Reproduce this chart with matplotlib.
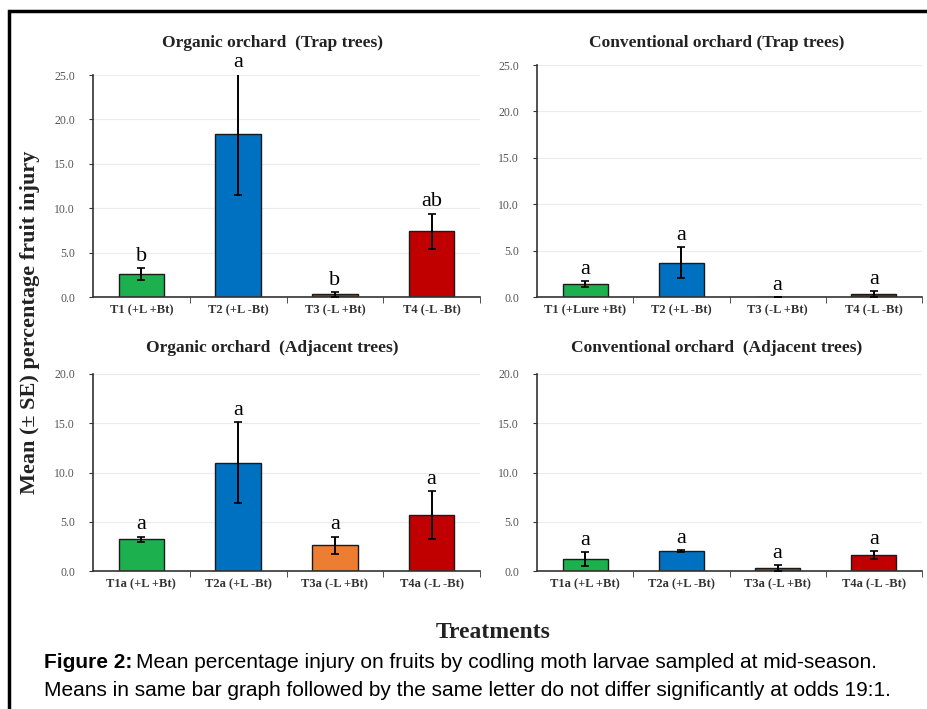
import matplotlib
matplotlib.use("Agg")
import matplotlib.pyplot as plt
from matplotlib.patches import Rectangle

plt.rcParams['font.family'] = ['Liberation Serif', 'DejaVu Serif']

# Panel data
titles = ['Organic orchard  (Trap trees)', 'Conventional orchard (Trap trees)',
          'Organic orchard  (Adjacent trees)', 'Conventional orchard  (Adjacent trees)']

labels_trap_org = ['T1 (+L +Bt)', 'T2 (+L -Bt)', 'T3 (-L +Bt)', 'T4 (-L -Bt)']
labels_trap_conv = ['T1 (+Lure +Bt)', 'T2 (+L -Bt)', 'T3 (-L +Bt)', 'T4 (-L -Bt)']
labels_adj = ['T1a (+L +Bt)', 'T2a (+L -Bt)', 'T3a (-L +Bt)', 'T4a (-L -Bt)']

means_trap_org = [2.6, 18.3, 0.3, 7.4]
se_trap_org = [0.7, 6.8, 0.3, 2.0]
letters_trap_org = ['b', 'a', 'b', 'ab']

means_trap_conv = [1.4, 3.7, 0.0, 0.35]
se_trap_conv = [0.35, 1.7, 0.0, 0.3]
letters_trap_conv = ['a', 'a', 'a', 'a']

means_adj_org = [3.2, 11.0, 2.6, 5.7]
se_adj_org = [0.3, 4.1, 0.9, 2.45]
letters_adj_org = ['a', 'a', 'a', 'a']

means_adj_conv = [1.25, 2.0, 0.3, 1.65]
se_adj_conv = [0.7, 0.1, 0.35, 0.4]
letters_adj_conv = ['a', 'a', 'a', 'a']

green, blue, red = '#1DB04F', '#0070C0', '#C00000'
colors_trap_org = [green, blue, '#8B4513', red]
colors_trap_conv = [green, blue, '#8B4513', '#8B1A1A']
colors_adj_org = [green, blue, '#ED7D31', red]
colors_adj_conv = [green, blue, '#8B4513', red]

ymax_top = 25
ymax_bottom = 20

fig = plt.figure(figsize=(9.28, 7.09), dpi=100)
W, H = 928, 709


def px_axes(left, right, y0, ytop):
    return fig.add_axes([left / W, 1 - y0 / H, (right - left) / W, (y0 - ytop) / H])


def draw_panel(ax, labels, means, errs, letters, colors, ymax):
    x = list(range(len(labels)))
    ax.set_axisbelow(True)
    ax.grid(axis='y', color='#ebebeb', lw=0.8)
    ax.bar(x, means, width=0.47, color=colors, edgecolor='#1a1a1a', lw=1.0, zorder=2)
    ax.errorbar(x, means, yerr=errs, fmt='none', ecolor='black', elinewidth=1.4,
                capsize=3, capthick=1.2, zorder=3)
    for xi, m, e, let in zip(x, means, errs, letters):
        ax.annotate(let, (xi, m + e), xytext=(0, 1.5), textcoords='offset points',
                    ha='center', va='bottom', fontsize=16, annotation_clip=False)
    ax.set_xlim(-0.5, len(labels) - 0.5)
    ax.set_ylim(0, ymax)
    ax.set_yticks(range(0, ymax + 1, 5))
    ax.set_yticklabels([f'{v:.1f}' for v in range(0, ymax + 1, 5)])
    ax.set_xticks(x)
    ax.set_xticklabels(labels, fontweight='bold', fontsize=9)
    ax.set_xticks([i + 0.5 for i in x], minor=True)
    ax.tick_params(axis='x', which='major', length=0, pad=5, colors='#333333')
    ax.tick_params(axis='x', which='minor', length=4, direction='out', color='#333333')
    ax.tick_params(axis='y', length=3, direction='out', labelsize=8.5,
                   labelcolor='#555555', color='#333333', pad=10)
    for s in ['top', 'right']:
        ax.spines[s].set_visible(False)
    for s in ['left', 'bottom']:
        ax.spines[s].set_color('#333333')
        ax.spines[s].set_linewidth(1.2)


ax1 = px_axes(93, 480, 297, 75)
ax2 = px_axes(537, 922, 297, 65)
ax3 = px_axes(93, 480, 571, 374)
ax4 = px_axes(537, 922, 571, 374)

draw_panel(ax1, labels_trap_org, means_trap_org, se_trap_org, letters_trap_org, colors_trap_org, ymax_top)
draw_panel(ax2, labels_trap_conv, means_trap_conv, se_trap_conv, letters_trap_conv, colors_trap_conv, ymax_top)
draw_panel(ax3, labels_adj, means_adj_org, se_adj_org, letters_adj_org, colors_adj_org, ymax_bottom)
draw_panel(ax4, labels_adj, means_adj_conv, se_adj_conv, letters_adj_conv, colors_adj_conv, ymax_bottom)

title_pos = [(273, 43), (717, 43), (272, 348), (717, 348)]
for t, (tx, ty) in zip(titles, title_pos):
    fig.text(tx / W, 1 - ty / H, t, ha='center', va='center', fontsize=12.5,
             fontweight='bold', color='#222222')

fig.text(30 / W, 1 - 322 / H, 'Mean (± SE) percentage fruit injury', rotation=90,
         ha='center', va='center', fontsize=16, fontweight='bold', color='#222222')
fig.text(493 / W, 1 - 632 / H, 'Treatments', ha='center', va='center',
         fontsize=17, fontweight='bold', color='#222222')

# caption
cap_font = ['Liberation Sans', 'DejaVu Sans']
renderer = fig.canvas.get_renderer()
t_bold = fig.text(44 / W, 1 - 663 / H, 'Figure 2:', ha='left', va='center',
                  fontsize=15, fontweight='bold', family=cap_font)
bb = t_bold.get_window_extent(renderer)
fig.text(bb.x1 / W + 4 / W, 1 - 663 / H,
         'Mean percentage injury on fruits by codling moth larvae sampled at mid-season.',
         ha='left', va='center', fontsize=15, family=cap_font)
fig.text(44 / W, 1 - 690 / H,
         'Means in same bar graph followed by the same letter do not differ significantly at odds 19:1.',
         ha='left', va='center', fontsize=15, family=cap_font)

# outer frame
fig.add_artist(Rectangle((9 / W, -0.1), 1.2, 1 - 11 / H + 0.1, transform=fig.transFigure,
                         fill=False, lw=2.5, edgecolor='black'))

fig.savefig('out.png', dpi=100)
